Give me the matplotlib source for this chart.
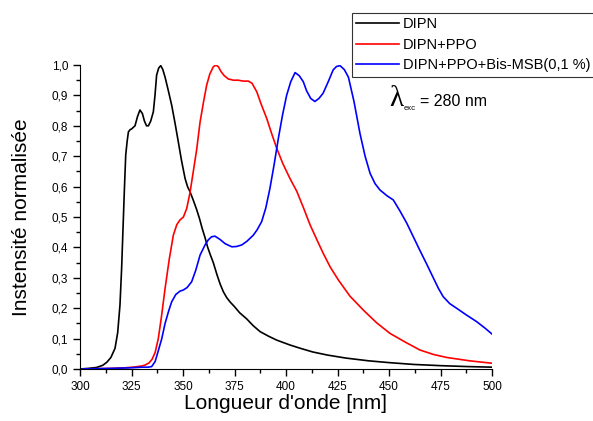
import matplotlib
matplotlib.use("Agg")
import matplotlib.pyplot as plt
from matplotlib.ticker import MultipleLocator, FuncFormatter

plt.rcParams['font.family'] = ['Liberation Sans', 'DejaVu Sans']

# DIPN
x_dipn = [300, 304, 308, 311, 313, 315, 317, 318.3, 319.4, 320.2, 321, 321.6, 322.2, 322.9, 323.5, 324.3, 325.1,
          326.7, 327.9, 329.1, 330.3, 331.3, 332.3, 333.2, 334.3, 335.6, 336.4, 337.2, 338.2, 339.2, 340.2,
          341.3, 342.9, 344.5, 346.1, 347.7, 349.3, 351, 352.2, 353.4, 355, 356.6, 358, 359.2, 360.7, 362,
          363.3, 364.7, 366.5, 368, 369.6, 371.2, 372.8, 375, 377.5, 380.9, 384, 387.4, 391.5, 395.5, 401.9,
          407, 413, 420, 429, 440, 450, 462, 475, 488, 500]
y_dipn = [0.0, 0.002, 0.005, 0.012, 0.022, 0.038, 0.068, 0.12, 0.21, 0.33, 0.485, 0.6, 0.704, 0.75, 0.78, 0.787, 0.79,
          0.80, 0.83, 0.852, 0.84, 0.815, 0.80, 0.80, 0.815, 0.846, 0.9, 0.967, 0.99, 0.998, 0.985,
          0.96, 0.915, 0.868, 0.81, 0.748, 0.685, 0.627, 0.60, 0.583, 0.555, 0.525, 0.495, 0.465, 0.432, 0.40,
          0.375, 0.35, 0.31, 0.28, 0.254, 0.235, 0.221, 0.205, 0.185, 0.165, 0.143, 0.123, 0.108, 0.095, 0.079,
          0.068, 0.056, 0.046, 0.036, 0.027, 0.021, 0.015, 0.011, 0.008, 0.006]

# DIPN+PPO
x_ppo = [300, 315, 322, 327, 330, 331.6, 333.5, 335, 336.5, 338, 339.5, 341.3, 343.3, 345.3, 347, 348.5, 350.2,
         351.8, 353.4, 355, 356.6, 358.3, 360, 361.5, 363, 364.7, 366, 367.2, 368.5, 370, 372, 374.5, 376.8,
         379.3, 381.7, 383.5, 385.8, 388, 390.6, 393, 395.5, 398.5, 401.9, 405.2, 408.5, 411.7, 415, 418.1,
         421.5, 425.4, 431, 437.5, 444, 450.5, 458, 465, 471.5, 478, 489, 500]
y_ppo = [0.0, 0.002, 0.004, 0.007, 0.01, 0.013, 0.02, 0.032, 0.055, 0.10, 0.17, 0.265, 0.36, 0.44, 0.475, 0.49, 0.50,
         0.528, 0.58, 0.65, 0.72, 0.813, 0.88, 0.934, 0.97, 0.994, 1.0, 0.994, 0.978, 0.965, 0.954, 0.95, 0.95,
         0.947, 0.947, 0.94, 0.912, 0.87, 0.825, 0.775, 0.726, 0.675, 0.627, 0.585, 0.53, 0.474, 0.425, 0.38,
         0.335, 0.293, 0.24, 0.194, 0.152, 0.117, 0.088, 0.0625, 0.048, 0.038, 0.027, 0.019]

# DIPN+PPO+Bis-MSB(0,1 %)
x_msb = [300, 315, 325, 330, 333, 334.8, 336.5, 338, 339.7, 341.3, 343, 344.5, 346.5, 348.5, 350.2, 352, 354.2,
         356.2, 358.3, 360.7, 362.3, 363.9, 365.5, 368, 370.5, 373.7, 376, 378.5, 381, 384.1, 386, 388.2, 390.2,
         392.2, 394.3, 396.3, 398.3, 400.3, 402.3, 404.4, 406.4, 408.4, 410, 412, 414, 416,
         418, 420.5, 422.9, 424.5, 426.2, 428.3, 430.3, 433, 435.9, 438.4, 440.8, 443.2, 445.6, 449, 452.1,
         455.3, 458.6, 461.8, 465, 468.3, 471.5, 474, 476.3, 479.5, 482.8, 487.5, 492.5, 496.5, 500]
y_msb = [0.0, 0.002, 0.004, 0.006, 0.006, 0.008, 0.025, 0.06, 0.10, 0.15, 0.19, 0.221, 0.245, 0.256, 0.26, 0.268, 0.287,
         0.325, 0.375, 0.408, 0.425, 0.435, 0.437, 0.426, 0.412, 0.402, 0.403, 0.408, 0.42, 0.44, 0.458, 0.485, 0.53,
         0.594, 0.675, 0.759, 0.835, 0.90, 0.945, 0.975, 0.965, 0.945, 0.915, 0.89, 0.88, 0.89,
         0.907, 0.945, 0.984, 0.995, 0.998, 0.985, 0.96, 0.88, 0.775, 0.70, 0.644, 0.61, 0.589, 0.57, 0.556,
         0.52, 0.48, 0.435, 0.39, 0.345, 0.30, 0.265, 0.238, 0.215, 0.2, 0.178, 0.156, 0.135, 0.115]

fig = plt.figure(figsize=(5.93, 4.21), dpi=100)
ax = fig.add_axes([80/593, 1-369/421, 412/593, 304/421])

ax.plot(x_dipn, y_dipn, color='black', lw=1.2, label='DIPN')
ax.plot(x_ppo, y_ppo, color='#ff0000', lw=1.2, label='DIPN+PPO')
ax.plot(x_msb, y_msb, color='#0000ff', lw=1.2, label='DIPN+PPO+Bis-MSB(0,1 %)')

ax.set_xlim(300, 500)
ax.set_ylim(0, 1.0)
ax.spines['top'].set_visible(False)
ax.spines['right'].set_visible(False)
ax.xaxis.set_major_locator(MultipleLocator(25))
ax.xaxis.set_minor_locator(MultipleLocator(12.5))
ax.yaxis.set_major_locator(MultipleLocator(0.1))
ax.yaxis.set_minor_locator(MultipleLocator(0.05))
ax.yaxis.set_major_formatter(FuncFormatter(lambda v, p: f"{v:.1f}".replace('.', ',')))
ax.tick_params(which='major', direction='out', length=5, width=1, labelsize=8.5)
ax.tick_params(which='minor', direction='out', length=3, width=1)
ax.set_xlabel("Longueur d'onde [nm]", fontsize=15, labelpad=1)
ax.set_ylabel("Instensité normalisée", fontsize=15, labelpad=15)

leg = ax.legend(loc='upper left', bbox_to_anchor=(352/593, 1-13/421), bbox_transform=fig.transFigure,
                fontsize=10.5, frameon=True, fancybox=False, edgecolor='black', handlelength=2.9,
                labelspacing=0.45, borderpad=0.3, handletextpad=0.3, borderaxespad=0)
leg.get_frame().set_linewidth(0.8)

ax.text(389/593, 1-99/421, "λ", transform=fig.transFigure, fontsize=21, va='center', ha='left',
        family='Liberation Serif')
ax.text(404/593, 1-108/421, "exc", transform=fig.transFigure, fontsize=5.5, va='center', ha='left')
ax.text(420/593, 1-101/421, "= 280 nm", transform=fig.transFigure, fontsize=11.5, va='center', ha='left')

fig.savefig('out.png', dpi=100)
